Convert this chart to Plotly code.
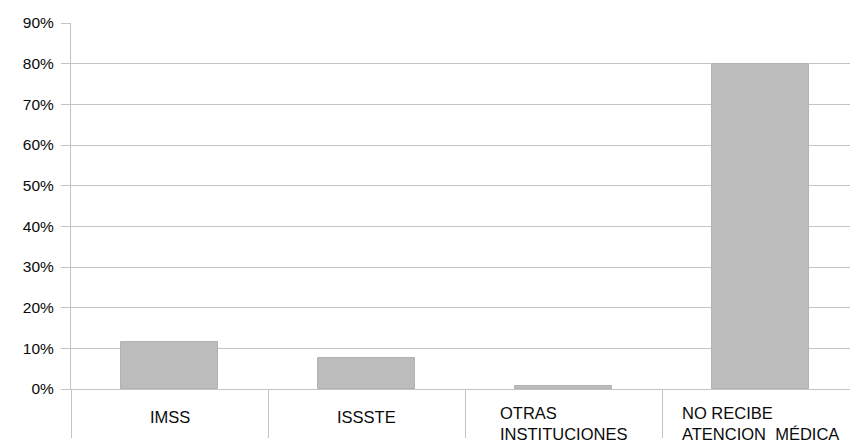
import plotly.graph_objects as go

categories = ["IMSS", "ISSSTE", "OTRAS<br>INSTITUCIONES", "NO RECIBE<br>ATENCION  MÉDICA"]
values = [11.5, 7.6, 0.8, 80.0]
y_ticks = [0, 10, 20, 30, 40, 50, 60, 70, 80, 90]
y_ticktext = [f"{v}%" for v in y_ticks]

grid = "#c4c4c4"
font_family = "Liberation Sans, Arial, Helvetica, sans-serif"

fig = go.Figure()
fig.add_trace(go.Bar(
    x=list(range(len(categories))),
    y=values,
    width=0.49,
    marker=dict(color="#bcbcbc", line=dict(color="#b2b2b2", width=1)),
    hoverinfo="skip",
))

for i, c in enumerate(categories):
    fig.add_annotation(
        x=i, xref="x", y=-0.0929, yref="paper",
        text=c, showarrow=False, align="left",
        xanchor="center", yanchor="middle",
        yshift=0 if "<br>" in c else 6,
        font=dict(family=font_family, size=16.5, color="#0a0a0a"),
    )

fig.update_layout(
    width=850, height=444,
    margin=dict(l=71, r=0, t=23, b=55),
    paper_bgcolor="white", plot_bgcolor="white",
    showlegend=False,
    bargap=0,
    font=dict(family=font_family, size=15, color="#0a0a0a"),
)
fig.update_xaxes(
    type="linear",
    range=[-0.5, 3.454],
    tickmode="array",
    tickvals=[-0.5, 0.5, 1.5, 2.5],
    showticklabels=False,
    ticks="outside", ticklen=48, tickwidth=1, tickcolor=grid,
    showgrid=False, zeroline=False,
    showline=True, linecolor=grid, linewidth=1,
)
fig.update_yaxes(
    range=[0, 90],
    tickmode="array", tickvals=y_ticks, ticktext=y_ticktext,
    ticks="outside", ticklen=9, tickwidth=1, tickcolor=grid,
    ticklabelstandoff=4,
    showgrid=True, gridcolor=grid, gridwidth=1,
    zeroline=False,
    showline=True, linecolor=grid, linewidth=1,
    tickfont=dict(family=font_family, size=15.5, color="#0a0a0a"),
)

fig.write_html("out.html")
